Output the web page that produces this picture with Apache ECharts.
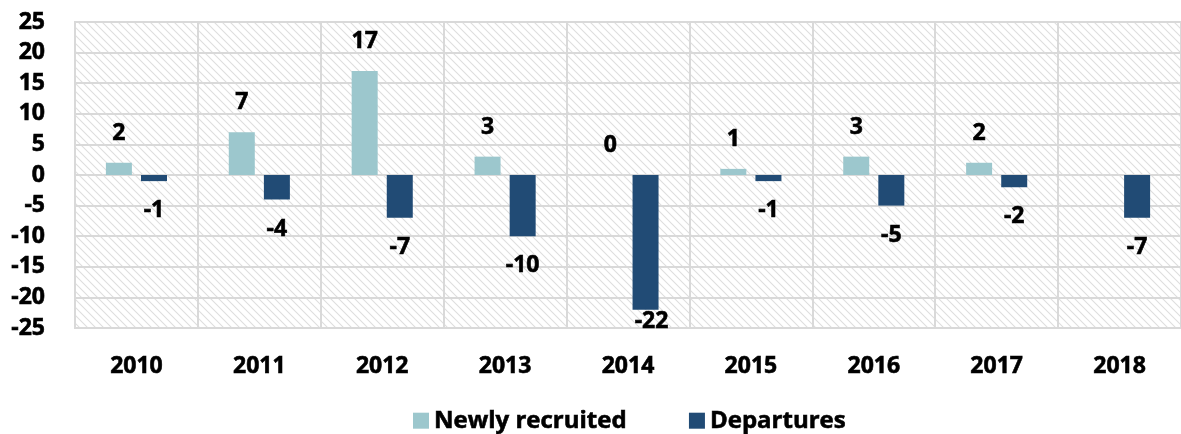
<!DOCTYPE html>
<html>
<head>
<meta charset="utf-8">
<script src="https://cdn.jsdelivr.net/npm/echarts@6/dist/echarts.min.js"></script>
<style>
    html, body { margin: 0; padding: 0; background: #fff; }
    #chart { width: 1181px; height: 434px; }
</style>
</head>
<body>
<div id="chart"></div>
<script>
// data
var years = ['2010', '2011', '2012', '2013', '2014', '2015', '2016', '2017', '2018'];
var newlyRecruited = [2, 7, 17, 3, 0, 1, 3, 2, null];
var departures = [-1, -4, -7, -10, -22, -1, -5, -2, -7];
var seriesNames = ['Newly recruited', 'Departures'];

window.onload = function () {
    // hatched background for the plot area
    var cv = document.createElement('canvas');
    cv.width = 8;
    cv.height = 8;
    var ctx = cv.getContext('2d');
    ctx.strokeStyle = '#dedede';
    ctx.lineWidth = 1.1;
    ctx.beginPath();
    ctx.moveTo(-1, -1); ctx.lineTo(9, 9);
    ctx.moveTo(-5, 3); ctx.lineTo(5, 13);
    ctx.moveTo(3, -5); ctx.lineTo(13, 5);
    ctx.stroke();

    var font = '"Open Sans", sans-serif';
    // slightly heavier bold text, like the original
    var txt = function (size) {
        return {
            fontFamily: font, fontSize: size, fontWeight: 'bold', color: '#000',
            textBorderColor: '#000', textBorderWidth: 0.6
        };
    };
    var myChart = echarts.init(document.getElementById('chart'));

    // 2014 departures label sits closer to the bar (Excel pushed it inside)
    var depData = departures.map(function (v, i) {
        if (v === -22) {
            return { value: v, label: { distance: 0, offset: [6, 0] } };
        }
        return v;
    });

    var option = {
        animation: false,
        textStyle: { fontFamily: font },
        grid: {
            left: 75, right: -8, top: 22, bottom: 106,
            show: true,
            backgroundColor: { image: cv, repeat: 'repeat' },
            borderColor: '#d9d9d9',
            borderWidth: 2
        },
        legend: {
            bottom: -4,
            left: 408,
            itemWidth: 16,
            itemHeight: 16,
            itemGap: 62,
            icon: 'rect',
            textStyle: txt(24),
            data: seriesNames
        },
        xAxis: {
            type: 'category',
            data: years,
            position: 'bottom',
            axisLine: { show: false, onZero: false },
            axisTick: { show: false },
            splitLine: { show: true, lineStyle: { color: '#d9d9d9', width: 2 } },
            axisLabel: Object.assign(txt(23), { margin: 27 })
        },
        yAxis: {
            type: 'value',
            min: -25,
            max: 25,
            interval: 5,
            axisLine: { show: false },
            axisTick: { show: false },
            splitLine: { lineStyle: { color: '#d9d9d9', width: 2 } },
            axisLabel: Object.assign(txt(23), { margin: 30 })
        },
        series: [
            {
                name: seriesNames[0],
                type: 'bar',
                barWidth: 26,
                barGap: '35%',
                itemStyle: { color: '#9cc7cd' },
                label: Object.assign(txt(23), { show: true, position: 'top', distance: 18 }),
                data: newlyRecruited
            },
            {
                name: seriesNames[1],
                type: 'bar',
                barWidth: 26,
                barGap: '35%',
                itemStyle: { color: '#214b75' },
                label: Object.assign(txt(23), { show: true, position: 'bottom', distance: 18 }),
                data: depData
            }
        ]
    };
    myChart.setOption(option);
};
</script>
</body>
</html>
